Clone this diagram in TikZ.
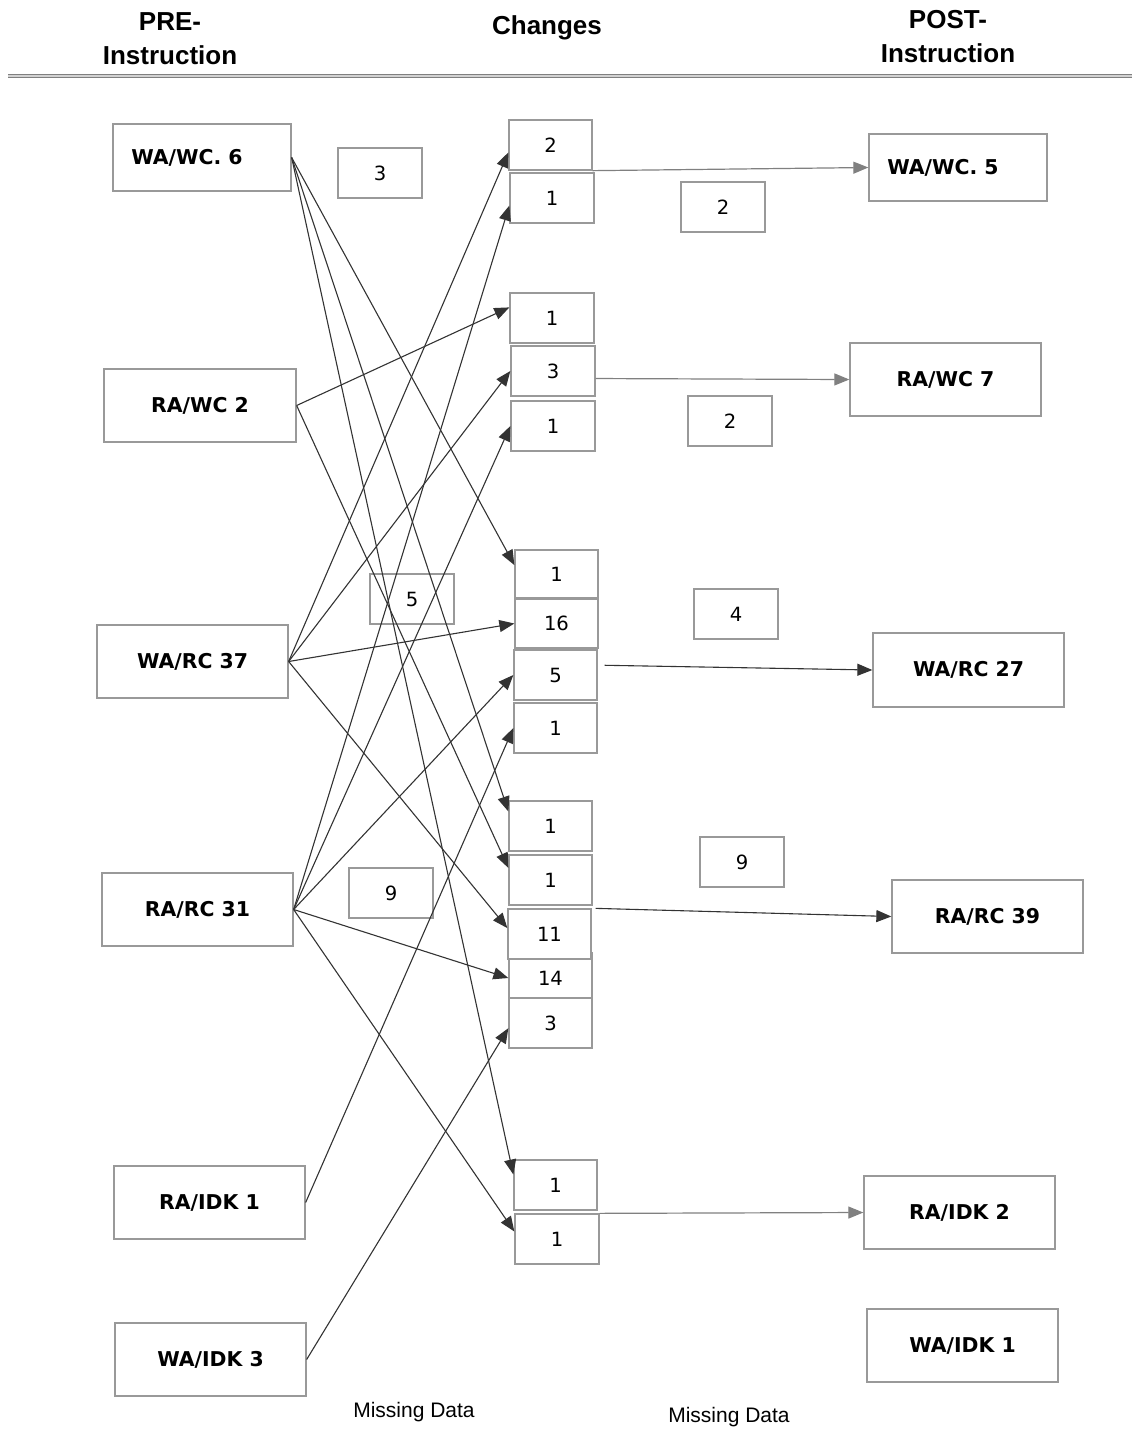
\documentclass[tikz,border=0pt]{standalone}
\usepackage{fontspec}
\setmainfont{Liberation Sans}
\newfontfamily\boxfont{DejaVu Sans}
\usetikzlibrary{arrows.meta}
\definecolor{boxgray}{HTML}{999999}
\definecolor{linegray}{HTML}{333333}
\definecolor{arrgray}{HTML}{808080}

\begin{document}
\begin{tikzpicture}[x=0.5pt, y=-0.5pt,
    pbox/.style={draw=boxgray, line width=0.65pt, fill=white, inner sep=0pt,
        minimum width=95.5pt, minimum height=36.5pt,
        font=\boxfont\bfseries\fontsize{10.2}{12}\selectfont},
    nbox/.style={draw=boxgray, line width=0.65pt, fill=white, inner sep=0pt,
        minimum width=42pt, minimum height=25pt,
        font=\boxfont\fontsize{9.8}{11}\selectfont},
    headtxt/.style={font=\bfseries\fontsize{13}{17}\selectfont, align=center},
    notetxt/.style={font=\fontsize{10.5}{12}\selectfont},
    conn/.style={draw=linegray, line width=0.55pt, -{Triangle[length=7.5pt,width=6pt]}},
    garrow/.style={draw=arrgray, line width=0.6pt, -{Triangle[length=7.5pt,width=6pt]}}]

    \useasboundingbox (0,0) rectangle (1132,1432);

    % -- Intestazione --
    \node[headtxt] (hpre) at (170,39) {PRE-\\Instruction};
    \node[headtxt] (hchg) at (547,28) {Changes};
    \node[headtxt] (hpost) at (948,37) {POST-\\Instruction};
    \draw[draw=gray, double=gray!35, double distance=0.7pt, line width=0.5pt] (8,76) -- (1132,76);

    % -- Colonna sinistra: pre --
    \node[pbox, minimum width=89pt, minimum height=33.5pt,
          label={[font=\boxfont\bfseries\fontsize{10.2}{12}\selectfont, xshift=-7.5pt]center:WA/WC. 6}]
          (ww6) at (202,157.5) {};
    \node[pbox, minimum width=96pt] (rw2) at (200,405.5) {RA/WC 2};
    \node[pbox] (wr37) at (192.5,661.5) {WA/RC 37};
    \node[pbox] (rr31) at (197.5,909.5) {RA/RC 31};
    \node[pbox] (ri1) at (209.5,1202.5) {RA/IDK 1};
    \node[pbox] (wi3) at (210.5,1359.5) {WA/IDK 3};

    % -- Colonna centrale: cambiamenti --
    \node[nbox, minimum width=41.5pt] (a1) at (550.5,145) {2};
    \node[nbox] (a2) at (552,198) {1};
    \node[nbox] (b1) at (552,318) {1};
    \node[nbox] (b2) at (553,371) {3};
    \node[nbox] (b3) at (553,426) {1};
    \node[nbox, minimum width=41.5pt, minimum height=24pt] (c1) at (556.5,574) {1};
    \node[nbox, minimum width=41.5pt, minimum height=24.5pt] (c2) at (556.5,623.5) {16};
    \node[nbox, minimum width=41.5pt] (c3) at (555.5,675) {5};
    \node[nbox, minimum width=41.5pt] (c4) at (555.5,728) {1};
    \node[nbox, minimum width=41.5pt] (d1) at (550.5,826) {1};
    \node[nbox, minimum width=41.5pt] (d2) at (550.5,880) {1};
    \node[nbox, minimum width=41.5pt] (d4) at (550.5,978) {14};
    \node[nbox, minimum width=41.5pt] (d3) at (549.5,934) {11};
    \node[nbox, minimum width=41.5pt] (d5) at (550.5,1023) {3};
    \node[nbox, minimum width=41.5pt] (e1) at (555.5,1185) {1};
    \node[nbox] (e2) at (557,1239) {1};

    % numeri sparsi
    \node[nbox, fill=none] (f3) at (380,173) {3};
    \node[nbox, fill=none] (f5) at (412,599) {5};
    \node[nbox, fill=none] (f9a) at (391,893) {9};
    \node[nbox, fill=none] (f2a) at (723,207) {2};
    \node[nbox, fill=none] (f2b) at (730,421) {2};
    \node[nbox, fill=none] (f4) at (736,614) {4};
    \node[nbox, fill=none] (f9b) at (742,862) {9};

    % -- Colonna destra: post --
    \node[pbox, minimum width=89pt, minimum height=33.5pt,
          label={[font=\boxfont\bfseries\fontsize{10.2}{12}\selectfont, xshift=-7.5pt]center:WA/WC. 5}]
          (ww5) at (958,167.5) {};
    \node[pbox] (rw7) at (945.5,379.5) {RA/WC 7};
    \node[pbox, minimum height=37pt] (wr27) at (968.5,670) {WA/RC 27};
    \node[pbox] (rr39) at (987.5,916.5) {RA/RC 39};
    \node[pbox] (ri2) at (959.5,1212.5) {RA/IDK 2};
    \node[pbox] (wi1) at (962.5,1345.5) {WA/IDK 1};

    % -- Frecce pre -> cambiamenti --
    \draw[conn] (ww6.east) -- (c1.168);
    \draw[conn] (ww6.east) -- (d1.161);
    \draw[conn] (ww6.east) -- (e1.166);

    \draw[conn] (rw2.east) -- (b1.166);
    \draw[conn] (rw2.east) -- (d2.164);

    \draw[conn] (wr37.east) -- (a1.190);
    \draw[conn] (wr37.east) -- (b2.west);
    \draw[conn] (wr37.east) -- (c2.west);
    \draw[conn] (wr37.east) -- (d3.172);

    \draw[conn] (rr31.east) -- (a2.190);
    \draw[conn] (rr31.east) -- (b3.west);
    \draw[conn] (rr31.east) -- (c3.west);
    \draw[conn] (rr31.east) -- (d4.west);
    \draw[conn] (rr31.east) -- (e2.170);

    \draw[conn] (ri1.east) -- (c4.west);
    \draw[conn] (wi3.east) -- (d5.187);

    % -- Frecce cambiamenti -> post --
    \draw[garrow] (a1.south east) -- (ww5.west);
    \draw[garrow] (b2.350) -- (rw7.west);
    \draw[conn] ([xshift=3.5pt]c3.13) -- (wr27.west);
    \draw[conn] ([xshift=2pt]d3.north east) -- (rr39.west);
    \draw[garrow] (e2.north east) -- (ri2.west);

    % dati mancanti
    \node[notetxt] (miss1) at (414,1412) {Missing Data};
    \node[notetxt] (miss2) at (729,1417) {Missing Data};
\end{tikzpicture}
\end{document}
